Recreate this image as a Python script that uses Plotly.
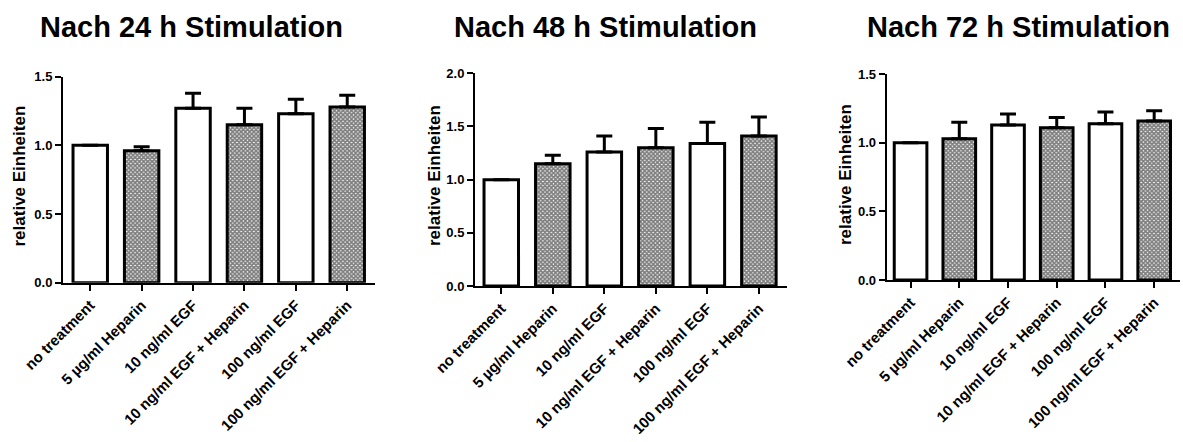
import plotly.graph_objects as go

# Treatment groups (same for all three time points)
categories = [
    "no treatment",
    "5 µg/ml Heparin",
    "10 ng/ml EGF",
    "10 ng/ml EGF + Heparin",
    "100 ng/ml EGF",
    "100 ng/ml EGF + Heparin",
]

# Relative units (mean) and upper error (SEM) per time point
mean_24h = [1.00, 0.96, 1.27, 1.15, 1.23, 1.28]
err_24h = [0.0, 0.03, 0.11, 0.12, 0.105, 0.085]

mean_48h = [1.00, 1.15, 1.26, 1.30, 1.34, 1.41]
err_48h = [0.0, 0.08, 0.15, 0.18, 0.20, 0.18]

mean_72h = [1.00, 1.03, 1.13, 1.11, 1.14, 1.16]
err_72h = [0.0, 0.12, 0.08, 0.075, 0.085, 0.075]

titles = ["Nach 24 h Stimulation", "Nach 48 h Stimulation", "Nach 72 h Stimulation"]
y_title = "relative Einheiten"
y_max = [1.5, 2.0, 1.5]

W, H = 1183, 442
FONT = "Liberation Sans, Arial, sans-serif"

# pixel geometry of each panel: (x_left, x_right, y_top, y_bottom)
panels_px = [
    (63, 375, 76.7, 282.7),
    (475, 786.7, 73.3, 286.0),
    (886.7, 1180, 74.3, 280.0),
]
x_ranges = [[-0.53, 5.54], [-0.51, 5.54], [-0.49, 5.53]]
title_cx = [191.7, 605.8, 1018.3]
ytitle_cx = [19, 435, 846]
ytitle_cy = [176.5, 175, 175]

series = [(mean_24h, err_24h), (mean_48h, err_48h), (mean_72h, err_72h)]

fig = go.Figure()

for i, (means, errs) in enumerate(series):
    sfx = "" if i == 0 else str(i + 1)
    shapes = ["", "x", "", "x", "", "x"]
    fig.add_trace(go.Bar(
        x=categories,
        y=means,
        width=0.67,
        xaxis="x" + sfx,
        yaxis="y" + sfx,
        marker=dict(
            color="white",
            line=dict(color="black", width=3),
            pattern=dict(shape=shapes, fgcolor="black", bgcolor="white",
                         size=3, solidity=0.8, fillmode="overlay"),
        ),
        error_y=dict(type="data", symmetric=False, array=errs,
                     arrayminus=[0] * len(errs), color="black",
                     thickness=3, width=8),
        showlegend=False,
    ))

    xl, xr, yt, yb = panels_px[i]
    fig.layout["xaxis" + sfx] = dict(
        domain=[xl / W, xr / W],
        anchor="y" + sfx,
        range=x_ranges[i],
        showline=True, linecolor="black", linewidth=2,
        ticks="outside", ticklen=6, tickwidth=2, tickcolor="black",
        tickangle=-45,
        tickfont=dict(family=FONT, size=15, color="black", weight="bold"),
        showgrid=False, zeroline=False, automargin=False,
    )
    fig.layout["yaxis" + sfx] = dict(
        domain=[1 - yb / H, 1 - yt / H],
        anchor="x" + sfx,
        range=[0, y_max[i]],
        dtick=0.5, tickformat=".1f",
        showline=True, linecolor="black", linewidth=2,
        ticks="outside", ticklen=6, tickwidth=2, tickcolor="black",
        tickfont=dict(family=FONT, size=13, color="black", weight="bold"),
        showgrid=False, zeroline=False, automargin=False,
    )

    fig.add_annotation(
        text=titles[i], xref="paper", yref="paper",
        x=title_cx[i] / W, y=1 - 27 / H, xanchor="center", yanchor="middle",
        showarrow=False,
        font=dict(family=FONT, size=29, color="black", weight="bold"),
    )
    fig.add_annotation(
        text=y_title, xref="paper", yref="paper",
        x=ytitle_cx[i] / W, y=1 - ytitle_cy[i] / H,
        xanchor="center", yanchor="middle", textangle=-90,
        showarrow=False,
        font=dict(family=FONT, size=17, color="black", weight="bold"),
    )

fig.update_layout(
    width=W, height=H,
    margin=dict(l=0, r=0, t=0, b=0),
    paper_bgcolor="white", plot_bgcolor="white",
    bargap=0.3,
)

fig.write_html("out.html")
